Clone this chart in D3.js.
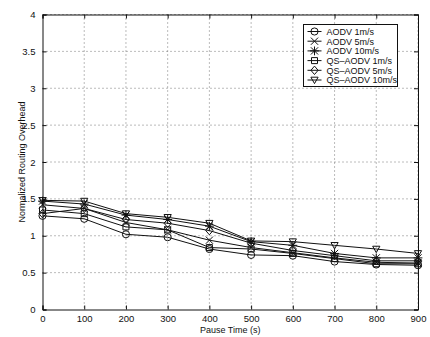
<!DOCTYPE html>
<html>
<head>
<meta charset="utf-8">
<script src="https://cdn.jsdelivr.net/npm/d3@7"></script>
<style>
  body { margin: 0; background: #fff; }
  text { font-family: "Liberation Sans", Arial, sans-serif; fill: #111; }
</style>
</head>
<body>
<svg id="chart" width="430" height="337"></svg>
<script>
// pause time (s)
const pauseTimes = [0, 100, 200, 300, 400, 500, 600, 700, 800, 900]
const seriesNames = ['AODV 1m/s', 'AODV 5m/s', 'AODV 10m/s', 'QS\u2013AODV 1m/s', 'QS\u2013AODV 5m/s', 'QS\u2013AODV 10m/s']
const markers = ['circle', 'x', 'star', 'square', 'diamond', 'triangle']
const aodv1 = [1.27, 1.23, 1.02, 0.98, 0.82, 0.74, 0.73, 0.65, 0.61, 0.60]
const aodv5 = [1.42, 1.37, 1.18, 1.08, 0.94, 0.84, 0.77, 0.70, 0.64, 0.63]
const aodv10 = [1.47, 1.43, 1.28, 1.22, 1.13, 0.92, 0.87, 0.76, 0.70, 0.70]
const qs1 = [1.35, 1.30, 1.12, 1.08, 0.84, 0.82, 0.76, 0.69, 0.62, 0.62]
const qs5 = [1.30, 1.37, 1.22, 1.17, 1.07, 0.90, 0.80, 0.73, 0.66, 0.66]
const qs10 = [1.48, 1.47, 1.30, 1.25, 1.17, 0.93, 0.92, 0.87, 0.82, 0.76]
const xTicks = [0, 100, 200, 300, 400, 500, 600, 700, 800, 900]
const yTicks = [0, 0.5, 1, 1.5, 2, 2.5, 3, 3.5, 4]

const allSeries = [aodv1, aodv5, aodv10, qs1, qs5, qs10]

let svg = d3.select('#chart'),
    margin = { top: 14.5, right: 12, bottom: 27.5, left: 42.5 },
    width = +svg.attr('width') - margin.left - margin.right,
    height = +svg.attr('height') - margin.top - margin.bottom

let g = svg.append('g').attr('transform', 'translate(' + margin.left + ',' + margin.top + ')')

let x = d3.scaleLinear().domain([0, 900]).range([0, width])
let y = d3.scaleLinear().domain([0, 4]).range([height, 0])

// dotted grid
g.append('g').selectAll('line').data(xTicks.slice(1))
    .join('line')
    .attr('x1', d => x(d)).attr('x2', d => x(d))
    .attr('y1', 0).attr('y2', height)
    .attr('stroke', '#555').attr('stroke-width', 0.8).attr('stroke-dasharray', '1,3')
g.append('g').selectAll('line').data(yTicks.slice(1))
    .join('line')
    .attr('x1', 0).attr('x2', width)
    .attr('y1', d => y(d)).attr('y2', d => y(d))
    .attr('stroke', '#555').attr('stroke-width', 0.8).attr('stroke-dasharray', '1,3')

// axes, ticks inward like matlab
g.append('g')
    .attr('transform', 'translate(0,' + height + ')')
    .call(d3.axisBottom(x).tickValues(xTicks).tickSize(-4).tickPadding(6).tickFormat(d3.format('d')))
g.append('g')
    .call(d3.axisLeft(y).tickValues(yTicks).tickSize(-4).tickPadding(7).tickFormat(d => String(d)))
g.append('g')
    .call(d3.axisTop(x).tickValues(xTicks).tickSize(-4).tickFormat(''))
g.append('g').attr('transform', 'translate(' + width + ',0)')
    .call(d3.axisRight(y).tickValues(yTicks).tickSize(-4).tickFormat(''))

g.selectAll('.domain').attr('stroke', '#111').attr('stroke-width', 1)
g.selectAll('.tick line').attr('stroke', '#111')
g.selectAll('.tick text').attr('font-size', 9.5).attr('fill', '#111')

// axis labels
svg.append('text')
    .attr('x', margin.left + width / 2).attr('y', 333)
    .attr('text-anchor', 'middle').attr('font-size', 9)
    .text('Pause Time (s)')
svg.append('text')
    .attr('transform', 'translate(25,' + (margin.top + height / 2) + ') rotate(-90)')
    .attr('text-anchor', 'middle').attr('font-size', 9)
    .text('Normalized Routing Overhead')

function markerPath(type) {
    let r = 3.6
    if (type == 'circle') return d3.symbol(d3.symbolCircle, 40)()
    if (type == 'square') return d3.symbol(d3.symbolSquare, 36)()
    if (type == 'diamond') return `M0,${-r - 0.6}L${r},0L0,${r + 0.6}L${-r},0Z`
    if (type == 'triangle') return `M${-r},${-r + 0.8}L${r},${-r + 0.8}L0,${r}Z`
    if (type == 'x') return `M${-r},${-r}L${r},${r}M${-r},${r}L${r},${-r}`
    if (type == 'star') return `M${-r},${-r}L${r},${r}M${-r},${r}L${r},${-r}M0,${-r - 0.8}L0,${r + 0.8}M${-r - 0.8},0L${r + 0.8},0`
    return ''
}

let line = d3.line()
    .x((d, i) => x(pauseTimes[i]))
    .y(d => y(d))

let plot = g.append('g')
allSeries.forEach((vals, si) => {
    plot.append('path')
        .datum(vals)
        .attr('d', line)
        .attr('fill', 'none')
        .attr('stroke', '#111')
        .attr('stroke-width', 1)
    plot.append('g').selectAll('path').data(vals)
        .join('path')
        .attr('transform', (d, i) => 'translate(' + x(pauseTimes[i]) + ',' + y(d) + ')')
        .attr('d', markerPath(markers[si]))
        .attr('fill', 'none')
        .attr('stroke', '#111')
        .attr('stroke-width', 1)
})

// legend box
let lg = svg.append('g').attr('transform', 'translate(303.5,24.5)')
lg.append('rect')
    .attr('width', 94).attr('height', 62)
    .attr('fill', '#fff').attr('stroke', '#111').attr('stroke-width', 1)
seriesNames.forEach((name, i) => {
    let ly = 7 + i * 9.7
    lg.append('line')
        .attr('x1', 4).attr('x2', 18).attr('y1', ly).attr('y2', ly)
        .attr('stroke', '#111')
    lg.append('path')
        .attr('transform', 'translate(11,' + ly + ')')
        .attr('d', markerPath(markers[i]))
        .attr('fill', 'none').attr('stroke', '#111')
    lg.append('text')
        .attr('x', 23).attr('y', ly + 3.3)
        .attr('font-size', 9)
        .text(name)
})
</script>
</body>
</html>
